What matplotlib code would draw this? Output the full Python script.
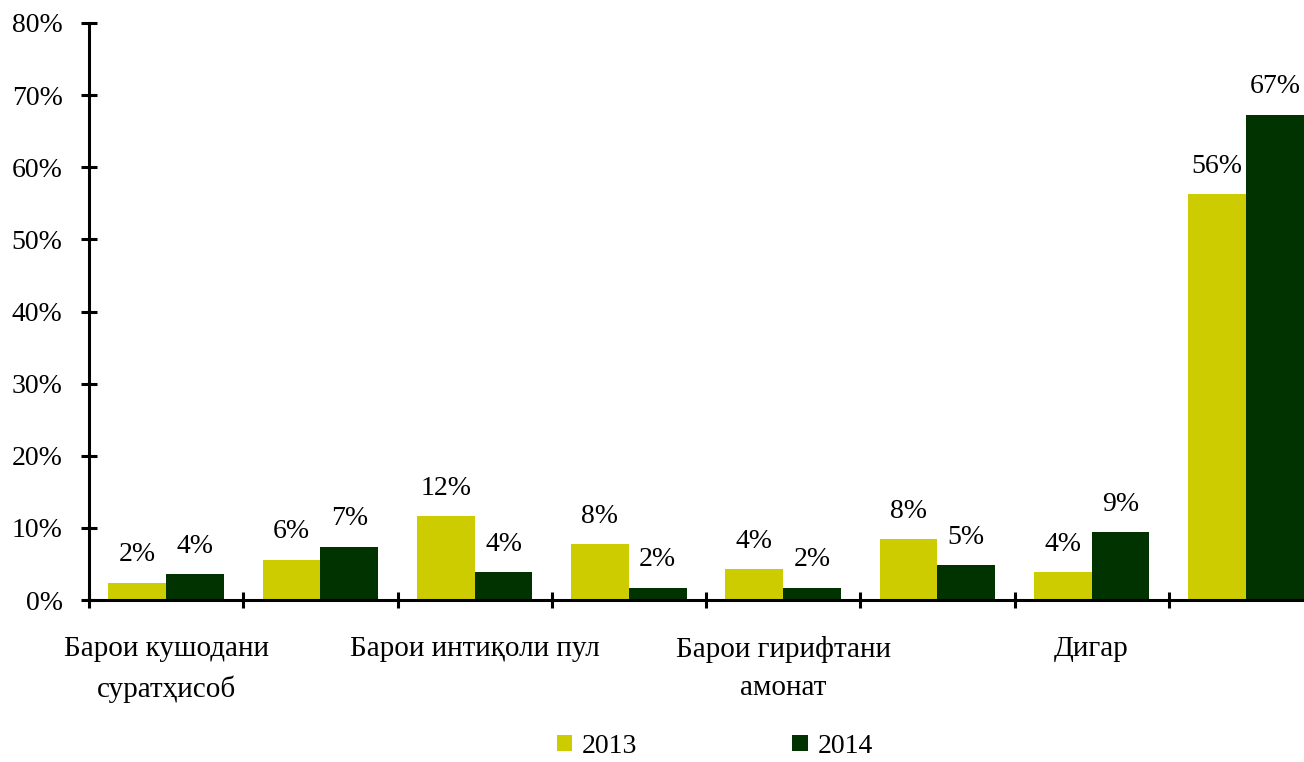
import matplotlib
matplotlib.use("Agg")
import matplotlib.pyplot as plt
import numpy as np
from matplotlib.ticker import PercentFormatter, FixedLocator

plt.rcParams['font.family'] = ['Liberation Serif', 'DejaVu Serif']

categories = ["Барои кушодани\nсуратҳисоб", "", "Барои интиқоли пул", "",
              "Барои гирифтани\nамонат", "", "Дигар", ""]
series_names = ["2013", "2014"]
values_2013 = [2.4, 5.6, 11.6, 7.7, 4.3, 8.4, 3.9, 56.3]
values_2014 = [3.6, 7.4, 3.9, 1.7, 1.7, 4.8, 9.4, 67.3]
colors = ["#CCCC00", "#003300"]

W, H = 1304, 762
fig = plt.figure(figsize=(W / 100, H / 100), dpi=100)
left, right, top, bottom = 89, 1323, 23, 600
ax = fig.add_axes([left / W, (H - bottom) / H, (right - left) / W, (bottom - top) / H])

x = np.arange(len(categories))
bw = 0.375
for i, (vals, name) in enumerate(zip([values_2013, values_2014], series_names)):
    pos = x + (i - 0.5) * bw
    bars = ax.bar(pos, vals, width=bw, color=colors[i], label=name, zorder=2)
    for b, v in zip(bars, vals):
        ax.annotate(f"{v:.0f}%", (b.get_x() + b.get_width() / 2, v),
                    xytext=(0, 11), textcoords="offset points",
                    ha="center", va="bottom", fontsize=20)

ax.set_xlim(-0.5, len(categories) - 0.5)
ax.set_ylim(0, 80)
ax.yaxis.set_major_locator(FixedLocator(np.arange(0, 81, 10)))
ax.yaxis.set_major_formatter(PercentFormatter(decimals=0))

ax.set_xticks(np.arange(-0.5, len(categories), 1.0))
ax.set_xticklabels([])
ax.set_xticks(x, minor=True)
ax.set_xticklabels(categories, minor=True, fontsize=21, linespacing=1.6)
ax.tick_params(axis="x", which="minor", length=0, pad=26)
ax.tick_params(axis="x", which="major", direction="inout", length=12, width=2.2)
ax.tick_params(axis="y", direction="inout", length=12, width=2.2, labelsize=20, pad=13)

for s in ["top", "right"]:
    ax.spines[s].set_visible(False)
for s in ["left", "bottom"]:
    ax.spines[s].set_linewidth(2.2)

fig.legend(loc="upper center", bbox_to_anchor=(0.548, 0.037), ncol=2, frameon=False,
           fontsize=20, handlelength=0.55, handleheight=0.55, columnspacing=5.6,
           handletextpad=0.35, borderaxespad=0, borderpad=0)

fig.savefig("out.png", dpi=100)
